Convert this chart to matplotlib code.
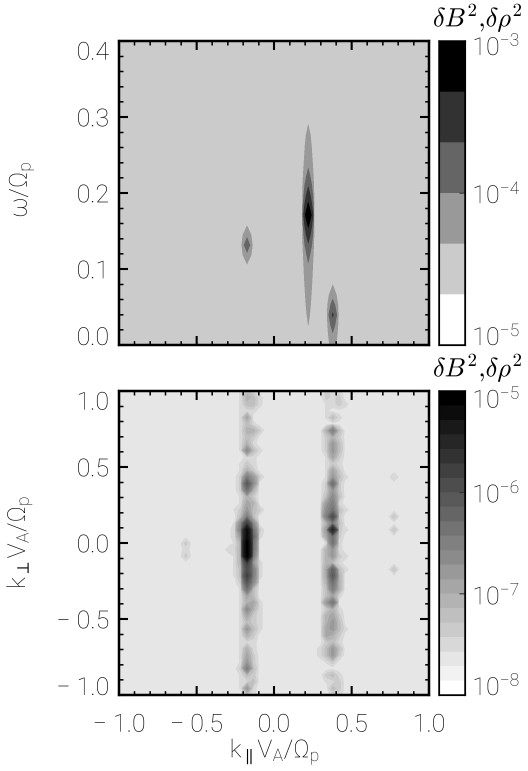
import numpy as np
import matplotlib
matplotlib.use("Agg")
import matplotlib.pyplot as plt
from matplotlib.ticker import MultipleLocator, NullLocator
from matplotlib.colors import ListedColormap

plt.rcParams['font.family'] = ['Roboto', 'DejaVu Sans']
plt.rcParams['font.weight'] = 'light'
plt.rcParams['mathtext.fontset'] = 'custom'
plt.rcParams['mathtext.rm'] = 'Roboto:light'
plt.rcParams['mathtext.it'] = 'Roboto:italic:light'
plt.rcParams['mathtext.bf'] = 'Roboto'
plt.rcParams['mathtext.default'] = 'rm'

W, H = 528, 771
SS = 3  # drawn larger, then averaged down

# grids
k_par = -0.174 + 0.0395 * np.arange(-21, 31)
omega = 0.01316 * np.arange(0, 32)
k_perp = 1 - np.arange(47) * 2 / 46

# top panel, log10 power
top_bg = -4.5
top_col_m174 = [(7, -4.5), (8, -4.36), (9, -4.1), (10, -3.78), (11, -4.1), (12, -4.36), (13, -4.5)]
top_col_p221 = [(1, -4.5), (2, -4.33), (3, -4.29), (4, -4.25), (5, -4.21), (6, -4.16), (7, -4.1), (8, -4.03),
                (9, -3.9), (10, -3.7), (11, -3.5), (12, -3.28), (13, -3.02), (14, -3.28), (15, -3.5),
                (16, -3.7), (17, -3.9), (18, -4.05), (19, -4.14), (20, -4.2), (21, -4.26), (22, -4.33),
                (23, -4.5)]
top_col_p379 = [(0, -4.2), (1, -4.05), (2, -3.85), (3, -3.62), (4, -3.85), (5, -4.15), (6, -4.33), (7, -4.5)]

# bottom panel, log10 power, one list per k_par column
bot_bg = -7.64
a_m2 = [-7.64]*18 + [-7.55, -7.64, -7.55, -7.45, -7.45, -7.55, -7.45, -7.55, -7.55, -7.55, -7.55] + [-7.64]*18
a_m1 = [-7.55, -7.55, -7.55, -7.55, -7.55, -7.55, -7.55, -7.55, -7.55, -7.55, -7.64, -7.55, -7.55, -7.36, -7.36,
        -7.36, -7.55, -7.55, -7.36, -7.21, -6.64, -6.5, -6.79, -7.07, -7.07, -7.07, -7.07, -7.21, -7.21, -7.36,
        -7.55, -7.55, -7.55, -7.55, -7.55, -7.55, -7.55, -7.55, -7.55, -7.55, -7.55, -7.55, -7.36, -7.55, -7.55,
        -7.55, -7.64]
a_0 = [-7.21, -7.07, -7.21, -7.5, -6.93, -7.21, -7.07, -7.21, -7.07, -6.64, -7.5, -7.36, -7.07, -6.5, -6.07,
       -6.36, -7.07, -6.93, -6.79, -6.5, -5.79, -5.21, -5.21, -5.07, -5.07, -5.07, -5.79, -5.93, -5.79,
       -6.07, -6.36, -6.93, -7.07, -6.64, -6.93, -7.21, -6.79, -7.07, -7.5, -7.07, -6.93, -6.79, -6.5,
       -7.21, -7.5, -6.79, -7.36]
a_p1 = [-7.5, -7.21, -7.21, -7.5, -7.64, -7.5, -7.07, -7.36, -7.5, -7.21, -7.5, -7.5, -7.36, -6.79, -6.64,
        -7.07, -7.36, -7.07, -7.21, -7.21, -6.64, -6.36, -6.21, -6.36, -6.36, -6.5, -6.79, -6.5, -6.5,
        -6.64, -7.21, -7.21, -6.93, -7.07, -7.36, -7.36, -7.21, -7.36, -7.5, -7.5, -7.36, -7.36, -7.21,
        -7.36, -7.21, -7.5, -7.5]
a_p2 = [-7.64, -7.5, -7.5, -7.64, -7.64, -7.64, -7.36, -7.64, -7.64, -7.5, -7.64, -7.64, -7.64, -7.36, -7.64,
        -7.64, -7.64, -7.64, -7.36, -7.64, -7.64, -7.36, -7.5, -7.64, -7.64, -7.64, -7.5, -7.5, -7.5, -7.64,
        -7.64, -7.64, -7.5, -7.5, -7.5, -7.5, -7.5, -7.64, -7.64, -7.64, -7.64, -7.64, -7.64, -7.64, -7.64,
        -7.64, -7.64]
b_m1 = [-7.36, -7.36, -7.55, -7.55, -7.55, -7.64, -7.07, -7.36, -7.36, -7.36, -7.55, -7.55, -7.55, -7.55, -7.36,
        -7.36, -7.21, -6.79, -6.64, -6.5, -7.07, -6.79, -6.93, -7.55, -7.07, -7.07, -7.07, -6.93, -6.93,
        -7.07, -7.21, -7.21, -6.79, -7.36, -7.07, -7.07, -6.93, -6.93, -7.36, -7.21, -7.21, -7.55, -7.64,
        -7.36, -7.55, -7.64, -7.64]
b_0 = [-7.5, -7.5, -7.5, -7.64, -7.21, -7.64, -6.5, -7.07, -6.79, -6.79, -6.93, -7.36, -6.93, -6.79, -6.3,
       -6.79, -6.64, -6.5, -6.36, -5.93, -6.5, -5.5, -6.36, -6.36, -6.79, -6.79, -7.21, -6.2, -6.1, -6.35,
       -6.5, -6.93, -6.4, -7.07, -6.93, -6.79, -6.79, -7.07, -7.21, -6.79, -6.79, -7.36, -7.64, -7.21,
       -7.5, -7.21, -7.5]
b_p1 = [-7.5, -7.36, -7.36, -7.64, -7.5, -7.64, -7.21, -7.36, -7.21, -7.21, -7.36, -7.5, -7.36, -7.21, -7.36,
        -7.36, -7.21, -7.5, -7.21, -7.36, -7.21, -7.36, -7.36, -7.5, -7.5, -7.36, -7.5, -7.21, -7.07, -7.07,
        -7.07, -7.5, -7.64, -7.5, -7.36, -7.21, -7.21, -7.36, -7.5, -7.21, -7.36, -7.64, -7.64, -7.5, -7.36,
        -7.36, -7.5]

# isolated weak patches: k_par index, k_perp index, log10 power
spot_col = [18, 11, 11, 11, 45, 45, 45, 45, 37, 37, 37, 37, 37, 37, 37, 33, 33]
spot_row = [24, 23, 24, 25, 13, 19, 21, 27, 2, 13, 18, 21, 25, 27, 36, 39, 40]
spot_val = [-7.5, -7.36, -7.5, -7.36, -7.43, -7.3, -7.3, -7.3, -7.5, -7.5, -7.5, -7.5, -7.5, -7.5, -7.5, -7.5, -7.5]

top_levels = 10.0 ** np.linspace(-5, -3, 7)
bot_levels = 10.0 ** np.linspace(-8, -5, 22)
top_grays = [str(1 - i / 5) for i in range(6)]
bot_grays = [str(1 - i / 20) for i in range(21)]


def axpx(fig, x0, y0, x1, y1):
    return fig.add_axes([x0 / W, 1 - y1 / H, (x1 - x0) / W, (y1 - y0) / H])


def style(ax):
    for s in ax.spines.values():
        s.set_linewidth(1.8)
    ax.tick_params(which='major', direction='in', top=True, right=True, length=6.5, width=1.5, labelsize=18)
    ax.tick_params(which='minor', direction='in', top=True, right=True, length=3, width=1.1)
    ax.tick_params(axis='x', pad=13)
    ax.tick_params(axis='y', pad=7)


fig = plt.figure(figsize=(W / 100, H / 100), dpi=100)

# upper panel
ax1 = axpx(fig, 119, 41, 429, 345)
z1 = np.full((len(omega), len(k_par)), top_bg)
for col, pts in ((21, top_col_m174), (31, top_col_p221), (35, top_col_p379)):
    for row, v in pts:
        z1[row, col] = v
ax1.contourf(k_par, omega, 10.0 ** z1, levels=top_levels, colors=top_grays)
ax1.set_xlim(-1, 1)
ax1.set_ylim(0, 0.4)
ax1.xaxis.set_major_locator(MultipleLocator(0.5))
ax1.xaxis.set_minor_locator(MultipleLocator(0.1))
ax1.yaxis.set_major_locator(MultipleLocator(0.1))
ax1.yaxis.set_minor_locator(MultipleLocator(0.02))
style(ax1)
ax1.set_xticklabels([])
ax1.set_yticks([0, 0.1, 0.2, 0.3, 0.4])
ax1.set_yticklabels(['0.0', '0.1', '0.2', '0.3', '0.4'])
ax1.get_yticklabels()[0].set_va('baseline')
ax1.get_yticklabels()[-1].set_va('top')
fig.text(22 / W, 1 - 190 / H, r'$\omega/\Omega_p$', rotation=90, fontsize=18, ha='center', va='center')

# lower panel
ax2 = axpx(fig, 119, 391, 429, 695)
z2 = np.full((len(k_perp), len(k_par)), bot_bg)
for col, vals in ((19, a_m2), (20, a_m1), (21, a_0), (22, a_p1), (23, a_p2),
                  (34, b_m1), (35, b_0), (36, b_p1)):
    z2[:, col] = vals
z2[spot_row, spot_col] = spot_val
ax2.contourf(k_par, k_perp, 10.0 ** z2, levels=bot_levels, colors=bot_grays)
ax2.set_xlim(-1, 1)
ax2.set_ylim(-1, 1)
ax2.xaxis.set_major_locator(MultipleLocator(0.5))
ax2.xaxis.set_minor_locator(MultipleLocator(0.1))
ax2.yaxis.set_major_locator(MultipleLocator(0.5))
ax2.yaxis.set_minor_locator(MultipleLocator(0.1))
style(ax2)
ax2.set_xticks([-1, -0.5, 0, 0.5, 1])
ax2.set_xticklabels(['\u2212 1.0', '\u2212 0.5', '0.0', '0.5', '1.0'])
ax2.set_yticks([-1, -0.5, 0, 0.5, 1])
ax2.set_yticklabels(['\u2212 1.0', '\u2212 0.5', '0.0', '0.5', '1.0'])
ax2.get_yticklabels()[0].set_va('baseline')
ax2.get_yticklabels()[-1].set_va('top')
fig.text(20 / W, 1 - 543 / H, r'$k_{\perp}V_A/\Omega_p$', rotation=90, fontsize=18, ha='center', va='center')
fig.text(274 / W, 1 - 752 / H, r'$k_{\parallel}V_A/\Omega_p$', fontsize=18, ha='center', va='center')


def colorbar(y0, y1, levels, grays, decades, offsets):
    cax = axpx(fig, 439, y0, 465, y1)
    cax.pcolormesh([0, 1], levels, np.arange(len(grays)).reshape(-1, 1), cmap=ListedColormap(grays))
    cax.set_yscale('log')
    cax.set_ylim(levels[0], levels[-1])
    cax.set_xticks([])
    cax.yaxis.set_minor_locator(NullLocator())
    cax.set_yticks([10.0 ** d for d in decades])
    cax.tick_params(axis='y', direction='in', right=True, left=False, labelleft=False, length=4, width=0.8,
                    color='#333333')
    for s in cax.spines.values():
        s.set_linewidth(1.3)
    for d, off in zip(decades, offsets):
        cax.annotate(r'$10^{%d}$' % d, xy=(1, 10.0 ** d), xycoords=('axes fraction', 'data'),
                     xytext=(5, -off * 0.72), textcoords='offset points', fontsize=18, va='baseline', ha='left')
    fig.text(477 / W, 1 - (y0 - 23) / H, r'$\delta \mathit{B}^2{,}\delta\rho^2$', fontsize=19, ha='center',
             va='center', math_fontfamily='cm')


colorbar(41, 345, top_levels, top_grays, [-3, -4, -5], [14, 10, 0])
colorbar(391, 695, bot_levels, bot_grays, [-5, -6, -7, -8], [17, 10, 11, 0])

# average the big render down so the shades blend like the scanned original
fig.set_dpi(100 * SS)
fig.canvas.draw()
rgba = np.asarray(fig.canvas.buffer_rgba())[:, :, :3] / 255.0
small = rgba.reshape(H, SS, W, SS, 3).mean(axis=(1, 3))
plt.imsave('out.png', small)
